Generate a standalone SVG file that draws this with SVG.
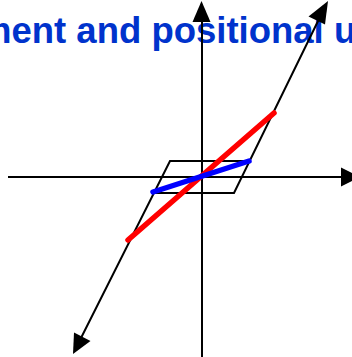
<svg xmlns="http://www.w3.org/2000/svg" width="352" height="357" viewBox="0 0 352 357">
<style>
.title{font-family:"Liberation Sans",Arial,sans-serif;font-weight:bold;font-size:36.5px;fill:#0033cc}
.ln{stroke:#000;stroke-width:2;fill:none}
.hd{fill:#000}
</style>
<rect width="352" height="357" fill="#fff"/>
<g id="title">
<text class="title" x="-21" y="43">ment and positional u</text>
</g>
<g id="axes">
<line class="ln" x1="8" y1="177" x2="342" y2="177"/>
<polygon class="hd" points="341,167.5 360,177 341,186.5"/>
<line class="ln" x1="202" y1="357" x2="202" y2="20"/>
<polygon class="hd" points="192.5,22 201.5,1 210.5,22"/>
</g>
<g id="curve">
<polyline class="ln" points="320,17 234,193 154,193"/>
<polyline class="ln" points="80,340 170,161 250,161"/>
<polygon class="hd" points="328,1 325,24.5 308.5,16.5"/>
<polygon class="hd" points="73,354 90.5,341 74,332.5"/>
</g>
<g id="red">
<line x1="274" y1="113" x2="128" y2="240" stroke="#ff0000" stroke-width="5.5" stroke-linecap="round"/>
</g>
<g id="blue">
<line x1="153" y1="192" x2="249" y2="161" stroke="#0000ff" stroke-width="5.5" stroke-linecap="round"/>
</g>
</svg>
